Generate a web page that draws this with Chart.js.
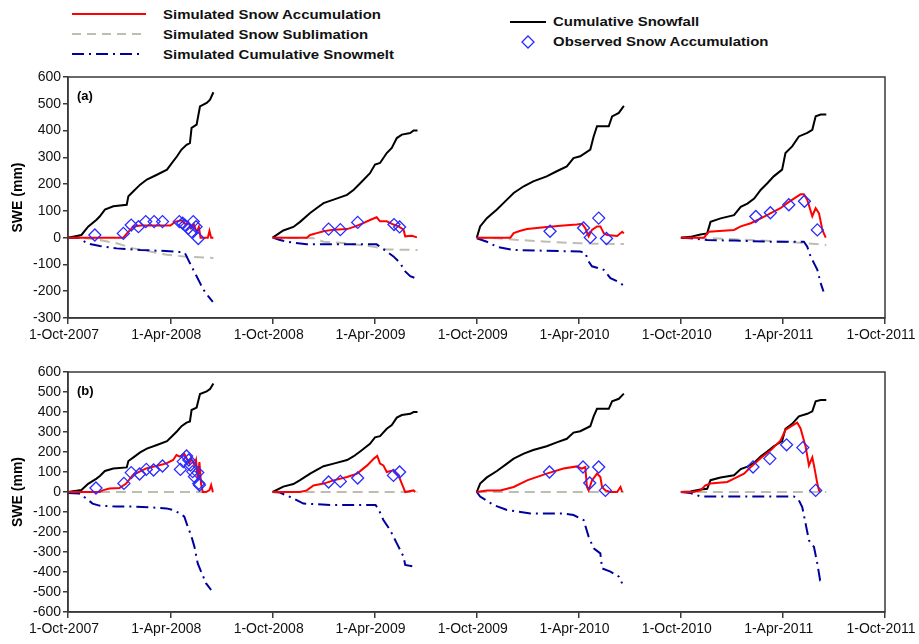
<!DOCTYPE html>
<html>
<head>
<meta charset="utf-8">
<script src="https://cdn.jsdelivr.net/npm/chart.js@4.4.1/dist/chart.umd.min.js"></script>
<style>
  html, body { margin: 0; padding: 0; background: #fff; }
  body { width: 919px; height: 644px; position: relative; overflow: hidden; font-family: "Liberation Sans", Arial, sans-serif; }
  .panel { position: absolute; left: 0; }
  #legend { position: absolute; left: 0; top: 0; width: 919px; height: 64px; }
  .lg { position: absolute; font-weight: bold; font-size: 13px; color: #111; white-space: nowrap; line-height: 16px; transform: scaleX(1.15); transform-origin: 0 50%; }
</style>
</head>
<body>
<svg id="legend" width="919" height="64">
  <line x1="72" y1="14" x2="146" y2="14" stroke="#ff0000" stroke-width="2"/>
  <line x1="72" y1="34" x2="146" y2="34" stroke="#bdbdb2" stroke-width="2" stroke-dasharray="9,6"/>
  <line x1="72" y1="54" x2="142" y2="54" stroke="#0000a0" stroke-width="2" stroke-dasharray="12,5,2,5"/>
  <line x1="510" y1="22" x2="546" y2="22" stroke="#000" stroke-width="2"/>
  <path d="M528 36 L534 42 L528 48 L522 42 Z" fill="none" stroke="#2b2bff" stroke-width="1.3"/>
</svg>
<div class="lg" style="left:163px; top:7px;">Simulated Snow Accumulation</div>
<div class="lg" style="left:163px; top:27px;">Simulated Snow Sublimation</div>
<div class="lg" style="left:163px; top:47px;">Simulated Cumulative Snowmelt</div>
<div class="lg" style="left:553px; top:14px;">Cumulative Snowfall</div>
<div class="lg" style="left:553px; top:34px;">Observed Snow Accumulation</div>

<div class="panel" style="top:60px;"><canvas id="chartA" width="919" height="290"></canvas></div>
<div class="panel" style="top:350px;"><canvas id="chartB" width="919" height="294"></canvas></div>

<script>
// x is days since 1-Oct-2007; every season's days are counted from its own 1 October
const tickDays = [0, 183, 366, 548, 731, 913, 1096, 1278, 1461];
const tickLabels = ['1-Oct-2007', '1-Apr-2008', '1-Oct-2008', '1-Apr-2009', '1-Oct-2009', '1-Apr-2010', '1-Oct-2010', '1-Apr-2011', '1-Oct-2011'];
const seasonStart = [0, 366, 731, 1096];

// cumulative snowfall (same in both panels)
const snowfallDay = [
  [0, 24, 36, 51, 57, 66, 81, 105, 108, 117, 129, 141, 159, 177, 186, 195, 203, 212, 218, 221, 230, 236, 248, 254, 260],
  [0, 19, 37, 49, 67, 79, 91, 109, 133, 145, 157, 174, 183, 192, 204, 213, 222, 231, 246, 252, 259],
  [0, 6, 18, 36, 54, 66, 84, 101, 125, 143, 161, 173, 185, 203, 209, 215, 221, 236, 242, 254, 263],
  [0, 17, 35, 47, 53, 71, 95, 107, 119, 131, 143, 155, 166, 181, 187, 199, 211, 226, 235, 241, 250, 260]
];
const snowfallSwe = [
  [0, 10, 41, 67, 80, 105, 117, 123, 155, 173, 198, 217, 235, 254, 279, 304, 329, 347, 353, 410, 422, 490, 503, 515, 543],
  [0, 27, 40, 59, 92, 111, 129, 142, 160, 179, 204, 241, 273, 279, 316, 335, 372, 385, 391, 400, 400],
  [0, 42, 73, 105, 142, 167, 192, 210, 229, 248, 266, 297, 304, 329, 378, 416, 416, 416, 453, 466, 492],
  [0, 3, 12, 16, 59, 72, 84, 115, 127, 146, 179, 204, 229, 254, 316, 341, 378, 391, 403, 453, 460, 460]
];

// panel (a)
const accumDayA = [
  [0, 99, 105, 117, 130, 183, 192, 203, 210, 215, 220, 225, 230, 234, 237, 242, 250, 253, 256, 260],
  [0, 61, 67, 79, 91, 109, 133, 148, 163, 175, 186, 192, 204, 216, 225, 234, 237, 249, 258],
  [0, 60, 66, 78, 90, 125, 155, 179, 188, 194, 200, 206, 215, 221, 227, 233, 251, 260, 263],
  [0, 41, 50, 95, 107, 125, 143, 160, 178, 190, 202, 214, 220, 226, 235, 241, 247, 253, 259]
];
const accumSweA = [
  [0, 0, 15, 42, 45, 45, 60, 65, 50, 58, 35, 50, 20, 40, 0, 0, 0, 25, 0, 0],
  [0, 0, 10, 17, 24, 30, 32, 42, 55, 67, 76, 61, 61, 49, 42, 30, 5, 7, 1],
  [0, 0, 17, 26, 32, 40, 45, 49, 52, 36, 5, 29, 42, 42, 17, 10, 6, 22, 16],
  [0, 0, 22, 29, 42, 54, 72, 91, 110, 129, 146, 162, 162, 141, 80, 110, 91, 29, 0]
];
const sublimDayA = [
  [0, 24, 57, 87, 117, 147, 177, 207, 260],
  [0, 73, 91, 133, 181, 204, 259],
  [0, 36, 78, 125, 185, 263],
  [0, 53, 125, 184, 226, 260]
];
const sublimSweA = [
  [0, 0, -9, -21, -40, -52, -64, -70, -76],
  [0, -2, -15, -21, -34, -44, -46],
  [0, -2, -9, -15, -21, -24],
  [0, -2, -9, -15, -21, -27]
];
const meltDayA = [
  [0, 21, 33, 57, 87, 129, 165, 195, 209, 218, 224, 230, 236, 242, 251, 259],
  [0, 13, 37, 61, 186, 192, 204, 216, 228, 237, 246, 258],
  [0, 18, 36, 66, 125, 185, 194, 200, 206, 227, 239, 251, 263],
  [0, 17, 47, 95, 155, 220, 226, 232, 238, 244, 250, 255]
];
const meltSweA = [
  [0, 0, -21, -31, -40, -46, -49, -52, -57, -95, -120, -144, -169, -194, -219, -240],
  [0, -9, -19, -25, -25, -34, -52, -70, -95, -126, -144, -153],
  [-2, -15, -34, -46, -49, -52, -57, -89, -107, -120, -151, -163, -179],
  [0, -2, -9, -11, -15, -15, -34, -71, -95, -120, -170, -201]
];
const obsDayA = [
  [48, 99, 113, 126, 139, 154, 169, 199, 205, 209, 215, 221, 224, 229, 233],
  [100, 121, 152, 217, 227],
  [131, 191, 203, 218, 232],
  [134, 160, 193, 221, 244]
];
const obsSweA = [
  [10, 16, 47, 41, 60, 60, 60, 60, 54, 47, 35, 22, 60, 41, -3],
  [32, 30, 57, 49, 40],
  [24, 36, 1, 73, -3],
  [79, 93, 123, 136, 29]
];

// panel (b)
const accumDayB = [
  [0, 56, 62, 74, 92, 104, 116, 128, 140, 158, 176, 188, 194, 200, 208, 217, 220, 226, 229, 232, 235, 238, 241, 247, 253, 256, 259],
  [0, 49, 61, 73, 91, 109, 133, 151, 169, 181, 187, 192, 198, 204, 216, 225, 231, 237, 252, 255],
  [0, 18, 42, 66, 90, 125, 155, 179, 188, 194, 197, 200, 206, 215, 221, 224, 230, 239, 251, 257, 260],
  [0, 23, 35, 44, 53, 83, 95, 113, 125, 143, 160, 178, 187, 196, 208, 214, 223, 229, 235, 238, 244, 247, 250]
];
const accumSweB = [
  [0, 0, 8, 17, 20, 42, 85, 102, 118, 130, 143, 160, 185, 177, 190, 143, 168, 135, 160, 60, 150, 40, 0, 0, 10, 35, 0],
  [0, 0, 8, 33, 42, 58, 75, 92, 133, 167, 180, 142, 133, 100, 108, 83, 42, 0, 8, 0],
  [0, 8, 8, 25, 58, 92, 117, 128, 117, 125, 25, 8, 58, 92, 75, 25, 8, 0, 0, 25, 0],
  [0, 0, 8, 33, 42, 50, 67, 92, 125, 170, 207, 257, 310, 327, 347, 318, 228, 133, 173, 133, 42, 8, 0]
];
const sublimDayB = [[0, 260], [0, 259], [0, 263], [0, 260]];
const sublimSweB = [[0, 0], [0, 0], [0, 0], [0, 0]];
const meltDayB = [
  [0, 20, 33, 44, 56, 86, 116, 146, 176, 188, 200, 208, 214, 220, 226, 232, 238, 247, 256],
  [0, 13, 37, 55, 103, 184, 190, 198, 210, 222, 234, 237, 252],
  [0, 6, 30, 54, 96, 155, 173, 191, 200, 209, 221, 224, 239, 254, 260],
  [0, 17, 35, 202, 211, 217, 223, 229, 238, 244, 249, 255]
];
const meltSweB = [
  [-5, -8, -33, -58, -68, -73, -73, -77, -82, -90, -107, -123, -173, -215, -273, -357, -398, -457, -490],
  [0, -3, -32, -58, -65, -65, -90, -140, -190, -257, -323, -365, -373],
  [0, -23, -65, -90, -107, -107, -115, -140, -223, -282, -307, -382, -398, -423, -457],
  [0, -5, -22, -22, -42, -75, -158, -242, -275, -358, -442, -445]
];
const obsDayB = [
  [50, 100, 113, 128, 140, 153, 169, 201, 206, 212, 216, 219, 223, 226, 232, 234, 235],
  [100, 121, 152, 216, 227],
  [130, 190, 202, 218, 230],
  [129, 159, 189, 218, 241]
];
const obsSweB = [
  [20, 43, 97, 90, 113, 110, 130, 113, 152, 180, 160, 135, 102, 77, 97, 43, 35],
  [50, 53, 70, 83, 100],
  [100, 125, 45, 125, 8],
  [125, 167, 236, 222, 8]
];

(function () {
  const FONT = '"Liberation Sans", Arial, sans-serif';
  Chart.defaults.font.family = FONT;
  Chart.defaults.color = '#111';

  // join the four seasons into one series, with a break between seasons
  const seasonPoints = (days, vals, gaps) => {
    const pts = [];
    days.forEach((d, s) => {
      d.forEach((day, i) => pts.push({ x: seasonStart[s] + day, y: vals[s][i] }));
      if (gaps) pts.push({ x: seasonStart[s] + d[d.length - 1] + 1, y: null });
    });
    return pts;
  };

  const frame = {
    id: 'frame',
    afterDraw(chart, args, opts) {
      const { ctx, chartArea: a } = chart;
      ctx.save();
      ctx.strokeStyle = '#3a3a3a';
      ctx.lineWidth = 1.5;
      ctx.strokeRect(a.left, a.top, a.right - a.left, a.bottom - a.top);
      ctx.fillStyle = '#000';
      ctx.font = 'bold 13px ' + FONT;
      ctx.textBaseline = 'middle';
      ctx.fillText(opts.label, a.left + 9, a.top + 19);
      ctx.restore();
    },
  };

  const makeChart = (id, panel, yMin, topPad, data) => {
    const line = (label, pts, color, dash, order) => ({
      label, data: pts, borderColor: color, borderWidth: 2, borderDash: dash,
      pointRadius: 0, tension: 0, spanGaps: false, fill: false, order,
    });
    return new Chart(document.getElementById(id), {
      type: 'line',
      data: {
        datasets: [
          {
            label: 'Observed Snow Accumulation',
            data: seasonPoints(data.obsDay, data.obsSwe, false),
            showLine: false, pointStyle: 'rectRot', pointRadius: 6,
            pointBorderColor: '#2b2bff', pointBorderWidth: 1.3,
            pointBackgroundColor: 'rgba(255,255,255,0)', order: 0,
          },
          line('Simulated Snow Accumulation', seasonPoints(data.accumDay, data.accumSwe, true), '#ff0000', [], 1),
          line('Cumulative Snowfall', seasonPoints(snowfallDay, snowfallSwe, true), '#000000', [], 2),
          line('Simulated Cumulative Snowmelt', seasonPoints(data.meltDay, data.meltSwe, true), '#0000a0', [12, 5, 2, 5], 3),
          line('Simulated Snow Sublimation', seasonPoints(data.sublimDay, data.sublimSwe, true), '#bdbdb2', [10, 6], 4),
        ],
      },
      options: {
        responsive: false,
        animation: false,
        events: [],
        layout: { padding: { top: topPad, right: 34, left: 0, bottom: 0 } },
        plugins: { legend: { display: false }, tooltip: { enabled: false }, frame: { label: panel } },
        scales: {
          x: {
            type: 'linear', min: 0, max: 1461,
            afterBuildTicks: (s) => { s.ticks = tickDays.map((v) => ({ value: v })); },
            afterFit: (s) => { s.height = 32; s.paddingLeft = 0; s.paddingRight = 0; },
            ticks: {
              autoSkip: false, maxRotation: 0, minRotation: 0, padding: 3, labelOffset: -4,
              color: '#111', font: { size: 14 },
              callback: (v, i) => tickLabels[i],
            },
            grid: { drawOnChartArea: false, tickLength: 6, color: '#3a3a3a', lineWidth: 1.5 },
            border: { display: true, color: '#3a3a3a', width: 1.5 },
          },
          y: {
            min: yMin, max: 600,
            afterFit: (s) => { s.width = 68; s.paddingTop = 0; s.paddingBottom = 0; },
            ticks: { stepSize: 100, padding: 2, color: '#111', font: { size: 14 } },
            grid: { drawOnChartArea: false, tickLength: 5, color: '#3a3a3a', lineWidth: 1.5 },
            border: { display: true, color: '#3a3a3a', width: 1.5 },
            title: {
              display: true, text: 'SWE (mm)', color: '#000',
              font: { size: 14, weight: 'bold' }, padding: { top: 10, bottom: 0 },
            },
          },
        },
      },
      plugins: [frame],
    });
  };

  makeChart('chartA', '(a)', -300, 17, {
    accumDay: accumDayA, accumSwe: accumSweA, sublimDay: sublimDayA, sublimSwe: sublimSweA,
    meltDay: meltDayA, meltSwe: meltSweA, obsDay: obsDayA, obsSwe: obsSweA,
  });
  makeChart('chartB', '(b)', -600, 22, {
    accumDay: accumDayB, accumSwe: accumSweB, sublimDay: sublimDayB, sublimSwe: sublimSweB,
    meltDay: meltDayB, meltSwe: meltSweB, obsDay: obsDayB, obsSwe: obsSweB,
  });
})();
</script>
</body>
</html>
